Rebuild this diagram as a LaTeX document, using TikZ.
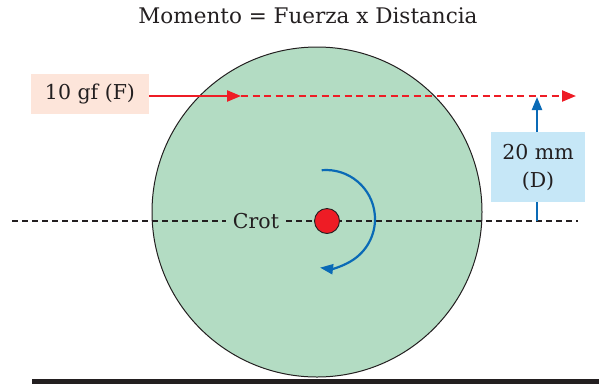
\documentclass[tikz,border=0pt]{standalone}
\usepackage{fontspec}
\setmainfont{DejaVu Serif}
\usetikzlibrary{arrows.meta}
\definecolor{disc}{HTML}{B3DCC3}
\definecolor{peach}{HTML}{FDE5DA}
\definecolor{lblue}{HTML}{C6E7F7}
\definecolor{fred}{HTML}{EE1C25}
\definecolor{mblue}{HTML}{0A6AB6}
\definecolor{ink}{HTML}{231F20}
\tikzset{
  lbl/.style={font=\fontsize{20.5}{24}\selectfont, text=ink, inner sep=0pt},
  axis/.style={draw=ink, line width=1.8pt, dash pattern=on 6pt off 4pt},
  force/.style={draw=fred, line width=2.2pt},
  tipR/.style={-{Triangle[length=14pt,width=11pt]}},
  tipB/.style={-{Triangle[length=13pt,width=10pt]}},
}
\begin{document}
\begin{tikzpicture}[x=1pt,y=-1pt]
\useasboundingbox (0,0) rectangle (599,384);
% disc
\fill[disc, draw=ink, line width=1pt] (317,212) circle (165);
% ground
\fill[ink] (32,378.5) rectangle (599,384);
% title
\node[lbl, font=\fontsize{21.5}{24}\selectfont] (title) at (308,16) {Momento = Fuerza x Distancia};
% axis
\coordinate (axL) at (12,221);
\coordinate (axR) at (578,221);
\node[lbl, fill=disc, inner xsep=7pt, inner ysep=3pt] (crot) at (256,221) {Crot};
\draw[axis] (axL) -- (crot.west);
\draw[axis] (crot.east) -- (axR);
% center dot
\node[circle, fill=fred, draw=ink, line width=0.9pt, minimum size=25pt, inner sep=0pt] (dot) at (327,221) {};
% rotation
\coordinate (rc) at (326,219);
\draw[mblue, line width=2.2pt, tipB] ([shift={(-95:49)}]rc) arc[start angle=-95, end angle=97, radius=49];
% force box
\node[lbl, fill=peach, minimum width=118pt, minimum height=40pt] (F) at (90,94) {10 gf (F)};
\coordinate (Fmid) at (241,96);
\coordinate (Fend) at (576,96);
\draw[force, tipR] (F.east |- Fmid) -- (Fmid);
\draw[force, tipR, dash pattern=on 7pt off 4.5pt] (Fmid) -- (Fend);
% distance
\coordinate (dB) at (537,221);
\coordinate (dT) at (537,97);
\draw[mblue, line width=2.2pt, tipB] (dB) -- (dT);
\node[lbl, fill=lblue, minimum width=94pt, minimum height=70pt, align=center] (D) at (538,167) {20 mm\\[4pt](D)};
\end{tikzpicture}
\end{document}
